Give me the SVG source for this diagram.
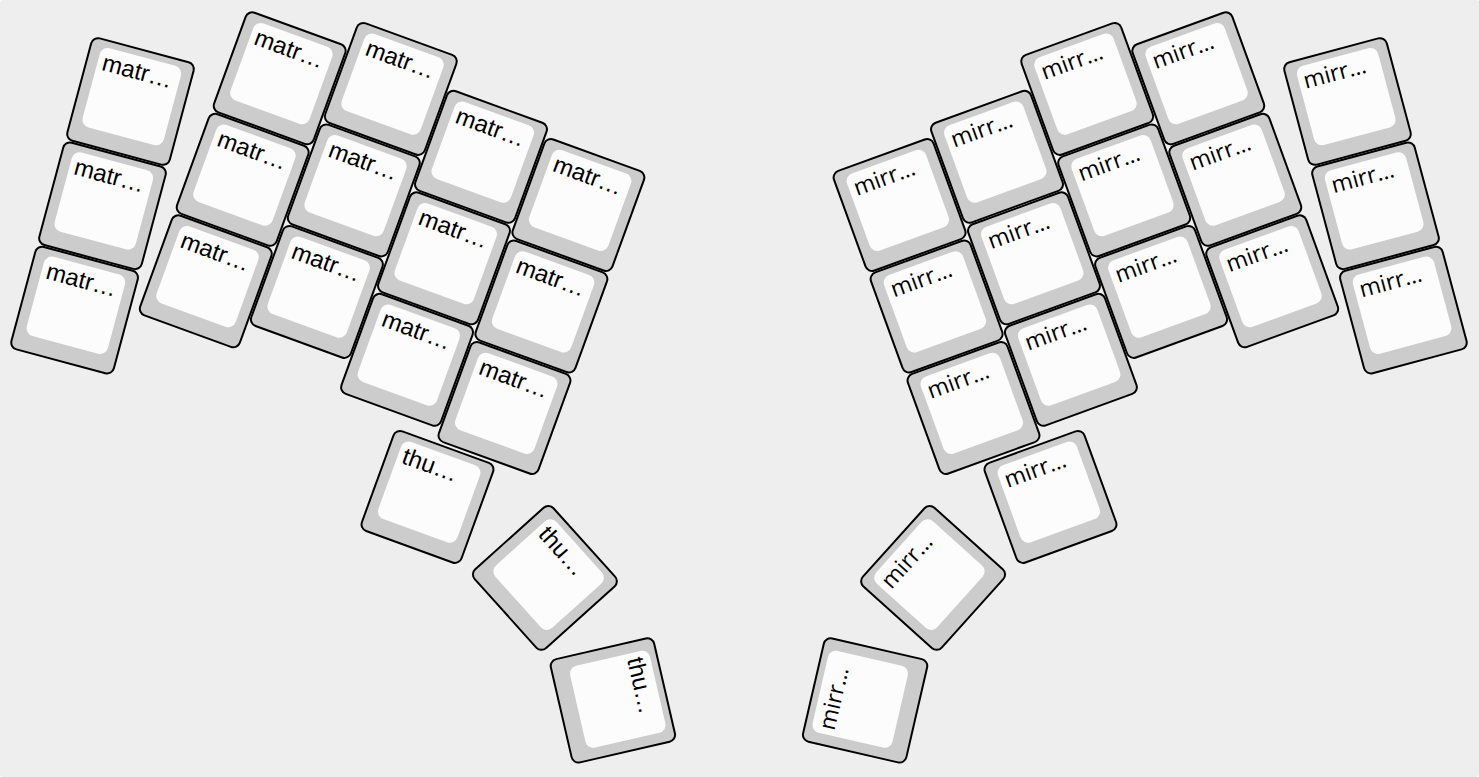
<svg xmlns="http://www.w3.org/2000/svg" xmlns:xlink="http://www.w3.org/1999/xlink" width="1479" height="777" viewBox="0 0 1479 777">
<style>
.bg{fill:#eeeeee}
.outer{fill:#cccccc;stroke:#000000;stroke-width:2}
.inner{fill:#fcfcfc}
.lbl-l{font-family:"Liberation Sans",Arial,sans-serif;font-size:24px;fill:#000}
.lbl-r{font-family:"Open Sans","Noto Sans",sans-serif;font-size:23px;fill:#000}
</style>
<defs>
<g id="cap">
<rect class="outer" x="-53" y="-53" width="106" height="106" rx="7"/>
<rect class="inner" x="-42" y="-46" width="84" height="82" rx="8"/>
</g>
</defs>
<rect class="bg" x="0" y="0" width="1479" height="777" rx="3"/>
<g id="left">
<g id="l-c0-r2" transform="translate(130.5 101.5) rotate(15)"><use href="#cap"/><text class="lbl-l" x="-37" y="-23">matr…</text></g>
<g id="l-c0-r1" transform="translate(102.5 205.8) rotate(15)"><use href="#cap"/><text class="lbl-l" x="-37" y="-23">matr…</text></g>
<g id="l-c0-r0" transform="translate(74.6 310.1) rotate(15)"><use href="#cap"/><text class="lbl-l" x="-37" y="-23">matr…</text></g>
<g id="l-c1-r2" transform="translate(279.7 78.3) rotate(20)"><use href="#cap"/><text class="lbl-l" x="-37" y="-23">matr…</text></g>
<g id="l-c1-r1" transform="translate(242.7 179.8) rotate(20)"><use href="#cap"/><text class="lbl-l" x="-37" y="-23">matr…</text></g>
<g id="l-c1-r0" transform="translate(205.8 281.3) rotate(20)"><use href="#cap"/><text class="lbl-l" x="-37" y="-23">matr…</text></g>
<g id="l-c2-r2" transform="translate(390.8 88.9) rotate(20)"><use href="#cap"/><text class="lbl-l" x="-37" y="-23">matr…</text></g>
<g id="l-c2-r1" transform="translate(353.8 190.4) rotate(20)"><use href="#cap"/><text class="lbl-l" x="-37" y="-23">matr…</text></g>
<g id="l-c2-r0" transform="translate(316.9 291.9) rotate(20)"><use href="#cap"/><text class="lbl-l" x="-37" y="-23">matr…</text></g>
<g id="l-c3-r2" transform="translate(481 156.8) rotate(20)"><use href="#cap"/><text class="lbl-l" x="-37" y="-23">matr…</text></g>
<g id="l-c3-r1" transform="translate(444 258.3) rotate(20)"><use href="#cap"/><text class="lbl-l" x="-37" y="-23">matr…</text></g>
<g id="l-c3-r0" transform="translate(407.1 359.8) rotate(20)"><use href="#cap"/><text class="lbl-l" x="-37" y="-23">matr…</text></g>
<g id="l-c4-r2" transform="translate(578.4 205) rotate(20)"><use href="#cap"/><text class="lbl-l" x="-37" y="-23">matr…</text></g>
<g id="l-c4-r1" transform="translate(541.4 306.5) rotate(20)"><use href="#cap"/><text class="lbl-l" x="-37" y="-23">matr…</text></g>
<g id="l-c4-r0" transform="translate(504.5 408) rotate(20)"><use href="#cap"/><text class="lbl-l" x="-37" y="-23">matr…</text></g>
<g id="l-t0" transform="translate(427.5 496.9) rotate(20)"><use href="#cap"/><text class="lbl-l" x="-37" y="-23">thu…</text></g>
<g id="l-t1" transform="translate(544.9 577.9) rotate(48)"><use href="#cap"/><text class="lbl-l" x="-37" y="-23">thu…</text></g>
<g id="l-t2" transform="translate(612.9 700.4) rotate(77)"><use href="#cap"/><text class="lbl-l" x="-37" y="-23">thu…</text></g>
</g>
<g id="right">
<g id="r-c0-r2" transform="translate(1347.5 101.5) rotate(-15)"><use href="#cap"/><text class="lbl-r" x="-37" y="-23">mirr…</text></g>
<g id="r-c0-r1" transform="translate(1375.5 205.8) rotate(-15)"><use href="#cap"/><text class="lbl-r" x="-37" y="-23">mirr…</text></g>
<g id="r-c0-r0" transform="translate(1403.4 310.1) rotate(-15)"><use href="#cap"/><text class="lbl-r" x="-37" y="-23">mirr…</text></g>
<g id="r-c1-r2" transform="translate(1198.3 78.3) rotate(-20)"><use href="#cap"/><text class="lbl-r" x="-37" y="-23">mirr…</text></g>
<g id="r-c1-r1" transform="translate(1235.3 179.8) rotate(-20)"><use href="#cap"/><text class="lbl-r" x="-37" y="-23">mirr…</text></g>
<g id="r-c1-r0" transform="translate(1272.2 281.3) rotate(-20)"><use href="#cap"/><text class="lbl-r" x="-37" y="-23">mirr…</text></g>
<g id="r-c2-r2" transform="translate(1087.2 88.9) rotate(-20)"><use href="#cap"/><text class="lbl-r" x="-37" y="-23">mirr…</text></g>
<g id="r-c2-r1" transform="translate(1124.2 190.4) rotate(-20)"><use href="#cap"/><text class="lbl-r" x="-37" y="-23">mirr…</text></g>
<g id="r-c2-r0" transform="translate(1161.1 291.9) rotate(-20)"><use href="#cap"/><text class="lbl-r" x="-37" y="-23">mirr…</text></g>
<g id="r-c3-r2" transform="translate(997 156.8) rotate(-20)"><use href="#cap"/><text class="lbl-r" x="-37" y="-23">mirr…</text></g>
<g id="r-c3-r1" transform="translate(1034 258.3) rotate(-20)"><use href="#cap"/><text class="lbl-r" x="-37" y="-23">mirr…</text></g>
<g id="r-c3-r0" transform="translate(1070.9 359.8) rotate(-20)"><use href="#cap"/><text class="lbl-r" x="-37" y="-23">mirr…</text></g>
<g id="r-c4-r2" transform="translate(899.6 205) rotate(-20)"><use href="#cap"/><text class="lbl-r" x="-37" y="-23">mirr…</text></g>
<g id="r-c4-r1" transform="translate(936.6 306.5) rotate(-20)"><use href="#cap"/><text class="lbl-r" x="-37" y="-23">mirr…</text></g>
<g id="r-c4-r0" transform="translate(973.5 408) rotate(-20)"><use href="#cap"/><text class="lbl-r" x="-37" y="-23">mirr…</text></g>
<g id="r-t0" transform="translate(1050.5 496.9) rotate(-20)"><use href="#cap"/><text class="lbl-r" x="-37" y="-23">mirr…</text></g>
<g id="r-t1" transform="translate(933.1 577.9) rotate(-48)"><use href="#cap"/><text class="lbl-r" x="-37" y="-23">mirr…</text></g>
<g id="r-t2" transform="translate(865.1 700.4) rotate(-77)"><use href="#cap"/><text class="lbl-r" x="-37" y="-23">mirr…</text></g>
</g>
</svg>
